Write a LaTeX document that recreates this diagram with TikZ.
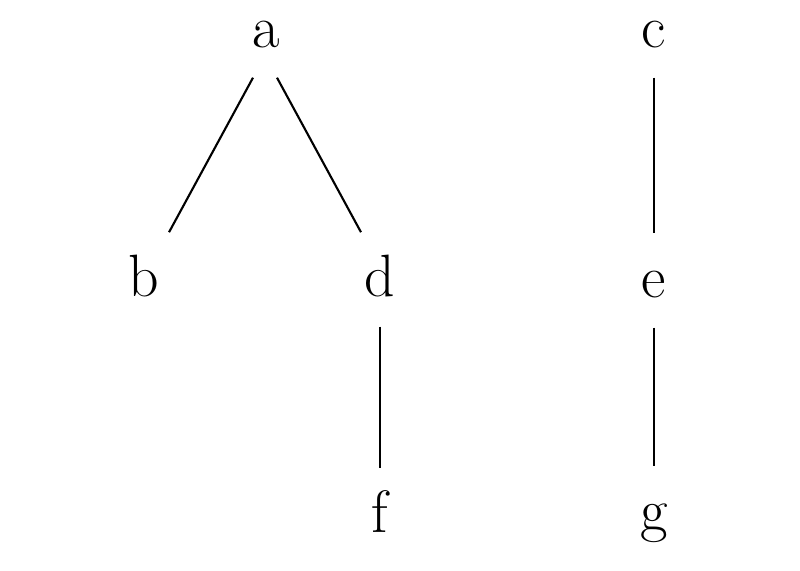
\documentclass[tikz,border=0pt]{standalone}
\usepackage{tikz}

\tikzset{
  leaf/.style={inner sep=0pt, anchor=base, text height=0.64cm, text depth=0.29cm,
               font=\fontsize{17}{20}\selectfont},
  branch/.style={line width=0.6pt}
}

\begin{document}
\begin{tikzpicture}[x=0.01cm, y=-0.01cm]
  \useasboundingbox (0,0) rectangle (800,571);
  % Left tree
  \node[leaf] (a) at (266,48) {a};
  \node[leaf] (b) at (144,297) {b};
  \node[leaf] (d) at (380,297) {d};
  \node[leaf] (f) at (380,533) {f};
  % Right tree
  \node[leaf] (c) at (654,48) {c};
  \node[leaf] (e) at (654,298) {e};
  \node[leaf] (g) at (654,531) {g};
  % Edges
  \draw[branch] ([xshift=-0.13cm]a.south) -- ([xshift=0.25cm]b.north);
  \draw[branch] ([xshift=0.11cm]a.south) -- ([xshift=-0.19cm]d.north);
  \draw[branch] (d.south) -- (f.north);
  \draw[branch] (c.south) -- (e.north);
  \draw[branch] (e.south) -- (g.north);
\end{tikzpicture}
\end{document}
